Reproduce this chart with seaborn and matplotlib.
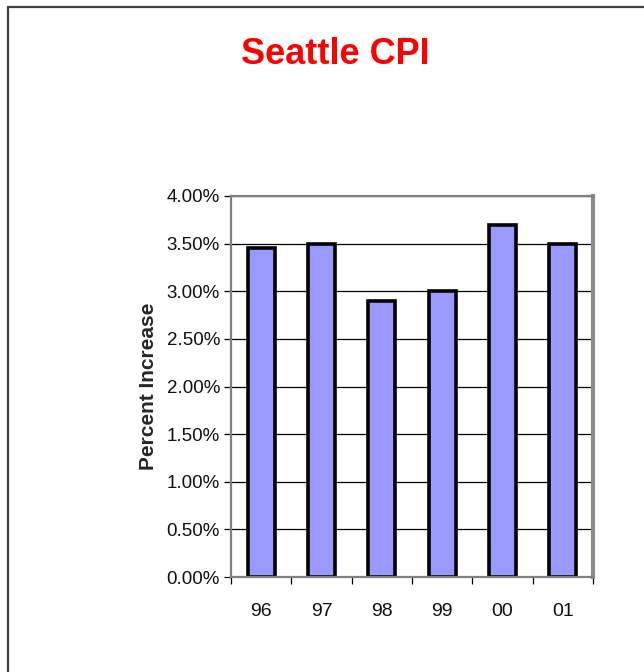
import matplotlib
matplotlib.use("Agg")
import matplotlib.pyplot as plt
import seaborn as sns
import pandas as pd
from matplotlib.lines import Line2D

years = ["96", "97", "98", "99", "00", "01"]
cpi_increase = [3.45, 3.50, 2.90, 3.00, 3.70, 3.50]
y_ticks = [0.0, 0.5, 1.0, 1.5, 2.0, 2.5, 3.0, 3.5, 4.0]

sns.set_theme(style="white")
plt.rcParams['font.family'] = ['Liberation Sans', 'DejaVu Sans']

df = pd.DataFrame({"year": years, "cpi": cpi_increase})

W, H = 644, 672
fig = plt.figure(figsize=(W / 100, H / 100), dpi=100)
ax = fig.add_axes([231 / W, 1 - 577 / H, (593 - 231) / W, (577 - 196) / H])

for t in y_ticks[1:]:
    ax.axhline(t, color="black", linewidth=0.9, zorder=0)

sns.barplot(data=df, x="year", y="cpi", order=years, color="#9999FF",
            width=0.45, edgecolor="black", linewidth=2.6, saturation=1, ax=ax, zorder=2)

ax.set_ylim(0, 4.0)
ax.set_xlim(-0.5, 5.5)
ax.set_yticks(y_ticks)
ax.set_yticklabels([f"{t:.2f}%" for t in y_ticks], fontsize=13.5, color="#111111")
ax.set_xticks([i - 0.5 for i in range(len(years) + 1)])
ax.set_xticklabels([])
ax.set_xticks(range(len(years)), minor=True)
ax.set_xticklabels(years, minor=True, fontsize=14, color="#111111")
ax.tick_params(axis="x", which="major", direction="out", length=5, width=0.9, color="black", bottom=True)
ax.tick_params(axis="x", which="minor", length=0, pad=19, bottom=True)
ax.tick_params(axis="y", which="major", direction="out", length=5, width=0.9, color="black", left=True, pad=3)

ax.set_xlabel("")
ax.set_ylabel("Percent Increase", fontsize=15, fontweight="bold", labelpad=6)

for side in ["left", "top"]:
    ax.spines[side].set_color("#808080")
    ax.spines[side].set_linewidth(1.6)
ax.spines["right"].set_color("#8c8c8c")
ax.spines["right"].set_linewidth(3)
ax.spines["bottom"].set_color("#808080")
ax.spines["bottom"].set_linewidth(1.6)

fig.text(335 / W, 1 - 54 / H, "Seattle CPI", color="#FF0000", fontsize=26,
         fontweight="bold", ha="center", va="center")

# outer chart frame (left and top edges visible)
fig.add_artist(Line2D([8 / W, 8 / W], [0, 1 - 7 / H], transform=fig.transFigure,
                      color="#404040", linewidth=1.6))
fig.add_artist(Line2D([8 / W, 1], [1 - 7 / H, 1 - 7 / H], transform=fig.transFigure,
                      color="#404040", linewidth=1.6))

fig.savefig("out.png", dpi=100)
